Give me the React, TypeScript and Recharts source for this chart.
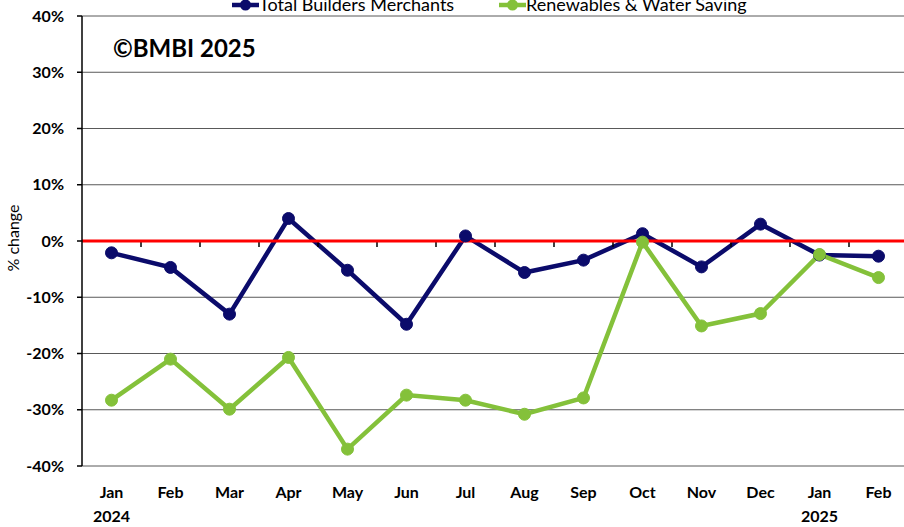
import { CartesianGrid, Line, LineChart, ReferenceLine, XAxis, YAxis } from 'recharts';

const months = ['Jan', 'Feb', 'Mar', 'Apr', 'May', 'Jun', 'Jul', 'Aug', 'Sep', 'Oct', 'Nov', 'Dec', 'Jan', 'Feb'];
const years = ['2024', '', '', '', '', '', '', '', '', '', '', '', '2025', ''];
const totalBuilders = [-2.1, -4.7, -13.0, 4.0, -5.2, -14.8, 0.9, -5.6, -3.4, 1.3, -4.6, 3.0, -2.5, -2.7];
const renewables = [-28.3, -21.0, -29.9, -20.7, -37.0, -27.4, -28.3, -30.8, -27.9, -0.2, -15.1, -12.9, -2.4, -6.5];
const yTicks = [-40, -30, -20, -10, 0, 10, 20, 30, 40];

const series = [
    { key: 'total', name: 'Total Builders Merchants', color: '#0b0b6b' },
    { key: 'renew', name: 'Renewables & Water Saving', color: '#84c13a' },
];

const data = months.map((m, i) => ({
    idx: i,
    month: m,
    year: years[i],
    total: totalBuilders[i],
    renew: renewables[i],
}));

const FONT = 'Lato, "Open Sans", sans-serif';

const MonthTick = (props: any) => {
    const { x, y, payload } = props;
    const row = data[payload.value];
    return (
        <g>
            <text x={x} y={y} dy={32} textAnchor="middle" fontFamily={FONT} fontWeight={700} fontSize={16} fill="#000">
                {row.month}
            </text>
            {row.year && (
                <text x={x} y={y} dy={56} textAnchor="middle" fontFamily={FONT} fontWeight={700} fontSize={16} fill="#000">
                    {row.year}
                </text>
            )}
        </g>
    );
};

// red zero line, with the category tick marks hanging under it
const ZeroLine = (props: any) => {
    const { x1, x2, y1 } = props;
    const left = Math.min(x1, x2);
    const right = Math.max(x1, x2);
    const step = (right - left) / months.length;
    return (
        <g>
            {months.map((_, i) => (
                <line key={i} x1={left + (i + 1) * step} x2={left + (i + 1) * step} y1={y1} y2={y1 + 6} stroke="#000" strokeWidth={1.5} />
            ))}
            <line x1={left} x2={right} y1={y1} y2={y1} stroke="#ff0000" strokeWidth={3} />
        </g>
    );
};

const App = () => {
    return (
        <div style={{ position: 'absolute', left: 0, top: 0, width: 904, height: 527, overflow: 'hidden', background: '#fff' }}>
            <LineChart width={910} height={527} data={data} margin={{ top: 16, right: 2, bottom: 0, left: 0 }}>
                <CartesianGrid vertical={false} stroke="#595959" strokeWidth={1} />
                <XAxis
                    dataKey="idx"
                    scale="band"
                    interval={0}
                    axisLine={false}
                    tickLine={false}
                    tickSize={0}
                    tickMargin={0}
                    height={61}
                    tick={<MonthTick />}
                />
                <YAxis
                    domain={[-40, 40]}
                    ticks={yTicks}
                    width={82}
                    tickSize={5}
                    tickMargin={13}
                    tickFormatter={(v: number) => `${v}%`}
                    axisLine={{ stroke: '#000', strokeWidth: 1.5 }}
                    tickLine={{ stroke: '#000', strokeWidth: 1.5 }}
                    tick={{ fill: '#000', fontFamily: FONT, fontWeight: 700, fontSize: 16 }}
                    label={{
                        content: (p: any) => {
                            const vb = p.viewBox;
                            const cx = 12;
                            const cy = vb.y + vb.height / 2 - 3;
                            return (
                                <text x={cx} y={cy} transform={`rotate(-90 ${cx} ${cy})`} textAnchor="middle" dominantBaseline="central" fontFamily={FONT} fontSize={16} fill="#000">
                                    % change
                                </text>
                            );
                        },
                    }}
                />
                {series.map((s) => (
                    <Line
                        key={s.key}
                        type="linear"
                        dataKey={s.key}
                        name={s.name}
                        stroke={s.color}
                        strokeWidth={4.5}
                        dot={{ r: 6, fill: s.color, stroke: s.color, strokeWidth: 1 }}
                        isAnimationActive={false}
                    />
                ))}
                <ReferenceLine y={0} shape={ZeroLine} />
                <text x={113} y={57} fontFamily={FONT} fontWeight={700} fontSize={24} fill="#000">
                    ©BMBI 2025
                </text>
                <g>
                    {series.map((s, i) => {
                        const x0 = i === 0 ? 232 : 499;
                        return (
                            <g key={s.key}>
                                <line x1={x0} x2={x0 + 27} y1={5} y2={5} stroke={s.color} strokeWidth={4.5} />
                                <circle cx={x0 + 13.5} cy={5} r={5.5} fill={s.color} />
                                <text x={x0 + 27} y={11} fontFamily={FONT} fontSize={18} fill="#000">
                                    {s.name}
                                </text>
                            </g>
                        );
                    })}
                </g>
            </LineChart>
        </div>
    );
};

export default App;
